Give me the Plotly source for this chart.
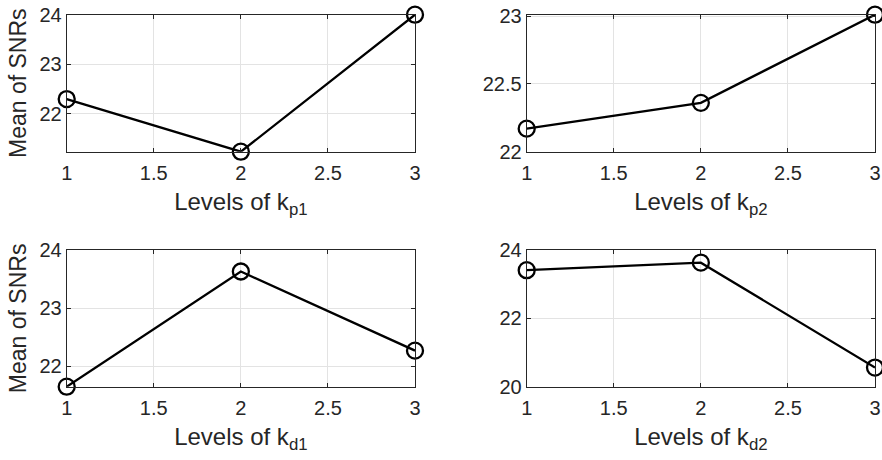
import plotly.graph_objects as go

levels = [1, 2, 3]
snr_kp1 = [22.30, 21.24, 24.00]
snr_kp2 = [22.17, 22.36, 23.01]
snr_kd1 = [21.65, 23.63, 22.27]
snr_kd2 = [23.41, 23.63, 20.56]

x_ticks = [1, 1.5, 2, 2.5, 3]
y_ticks_kp1 = [22, 23, 24]
y_ticks_kp2 = [22, 22.5, 23]
y_ticks_kd1 = [22, 23, 24]
y_ticks_kd2 = [20, 22, 24]

x_titles = ["Levels of k<sub>p1</sub>", "Levels of k<sub>p2</sub>",
            "Levels of k<sub>d1</sub>", "Levels of k<sub>d2</sub>"]
y_title = "Mean of SNRs"

W, H = 882, 460
FONT = "Liberation Sans, Arial, Helvetica, sans-serif"
AX = "#262626"
GRID = "#e3e3e3"

panels = [
    dict(y=snr_kp1, yt=y_ticks_kp1, yr=[21.24, 24.0], px=(66.7, 415), py=(14.7, 151.7), ytitle=True),
    dict(y=snr_kp2, yt=y_ticks_kp2, yr=[22.0, 23.01], px=(526.7, 875), py=(14.7, 151.7), ytitle=False),
    dict(y=snr_kd1, yt=y_ticks_kd1, yr=[21.65, 24.0], px=(66.7, 415), py=(250, 386.7), ytitle=True),
    dict(y=snr_kd2, yt=y_ticks_kd2, yr=[20.0, 24.0], px=(526.7, 875), py=(250, 386.7), ytitle=False),
]

fig = go.Figure()
layout = dict(
    template="none",
    width=W, height=H, autosize=False,
    margin=dict(l=0, r=0, t=0, b=0, pad=0),
    paper_bgcolor="white", plot_bgcolor="white",
    showlegend=False,
    font=dict(family=FONT, color=AX, size=20),
)

for i, p in enumerate(panels):
    n = "" if i == 0 else str(i + 1)
    fig.add_trace(go.Scatter(
        x=levels, y=p["y"], mode="lines+markers",
        line=dict(color="black", width=2.3),
        marker=dict(symbol="circle-open", size=16, color="black", line=dict(width=2.3, color="black")),
        cliponaxis=False, hoverinfo="skip",
        xaxis="x" + n, yaxis="y" + n,
    ))
    xd = [p["px"][0] / W, p["px"][1] / W]
    yd = [1 - p["py"][1] / H, 1 - p["py"][0] / H]
    common = dict(showline=True, linecolor=AX, linewidth=1, mirror="ticks",
                  ticks="inside", ticklen=4, tickcolor=AX, tickwidth=1,
                  showgrid=True, gridcolor=GRID, gridwidth=1,
                  zeroline=False, automargin=False,
                  tickfont=dict(size=20, color=AX, family=FONT))
    layout["xaxis" + n] = dict(
        domain=xd, range=[1, 3], tickvals=x_ticks, ticktext=[str(v) for v in x_ticks],
        anchor="y" + n, ticklabelstandoff=3,
        title=dict(text=x_titles[i], font=dict(size=24, color=AX, family=FONT), standoff=10),
        **common)
    layout["yaxis" + n] = dict(
        domain=yd, range=p["yr"], tickvals=p["yt"], ticktext=[("%g" % v) for v in p["yt"]],
        anchor="x" + n,
        title=dict(text=y_title if p["ytitle"] else "", font=dict(size=23, color=AX, family=FONT), standoff=6),
        **common)

fig.update_layout(**layout)
fig.write_html(
    "out.html",
    config={"displayModeBar": False, "staticPlot": True},
    post_script="document.body.style.margin='0';document.body.style.overflow='hidden';",
)
